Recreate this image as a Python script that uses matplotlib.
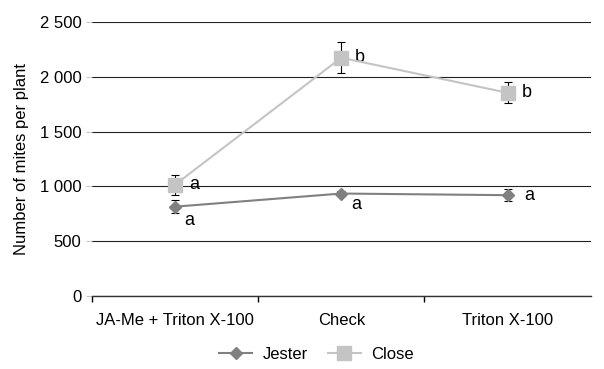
import numpy as np
import matplotlib.pyplot as plt
from matplotlib.lines import Line2D

plt.rcParams['font.family'] = ['Liberation Sans', 'DejaVu Sans']

categories = ["JA-Me + Triton X-100", "Check", "Triton X-100"]
jester = [815, 935, 920]
jester_err = [60, 25, 55]
close = [1015, 2175, 1855]
close_err = [90, 140, 95]
jester_letters = ["a", "a", "a"]
close_letters = ["a", "b", "b"]

jester_color = "#808080"
close_color = "#c4c4c4"

fig = plt.figure(figsize=(6.04, 3.69), dpi=100)
ax = fig.add_axes([0.152, 0.198, 0.826, 0.742])

x = np.arange(len(categories))

ax.errorbar(x, jester, yerr=jester_err, color=jester_color, marker="D", markersize=6.5,
            linewidth=1.5, ecolor="black", elinewidth=0.8, capsize=3, capthick=0.8,
            zorder=3)
ax.errorbar(x, close, yerr=close_err, color=close_color, marker="s", markersize=10,
            linewidth=1.5, ecolor="black", elinewidth=0.8, capsize=3, capthick=0.8,
            zorder=3)

# significance letters
jester_off = [(7, -10), (7, -8), (12, 0)]
close_off = [(10, 0), (10, 0), (10, 0)]
for i in range(len(categories)):
    ax.annotate(jester_letters[i], (x[i], jester[i]), xytext=jester_off[i],
                textcoords="offset points", fontsize=13, va="center", ha="left")
    ax.annotate(close_letters[i], (x[i], close[i]), xytext=close_off[i],
                textcoords="offset points", fontsize=13, va="center", ha="left")

ax.set_xlim(-0.5, 2.5)
ax.set_ylim(0, 2500)
ax.set_yticks(np.arange(0, 2501, 500))
ax.set_yticklabels([f"{v:,}".replace(",", " ") for v in range(0, 2501, 500)])
ax.set_xticks(x)
ax.set_xticklabels(categories)
ax.set_xticks([-0.5, 0.5, 1.5], minor=True)
ax.tick_params(axis="x", which="major", length=0, pad=12, labelsize=12)
ax.tick_params(axis="x", which="minor", length=4, width=1)
ax.tick_params(axis="y", length=4, width=0.6, color="#bbbbbb", labelsize=12)
ax.grid(axis="y", color="#222222", linewidth=0.8)
ax.set_axisbelow(True)
for s in ["top", "right", "left"]:
    ax.spines[s].set_visible(False)
ax.spines["bottom"].set_color("#333333")
ax.spines["bottom"].set_linewidth(1)
ax.set_ylabel("Number of mites per plant", fontsize=12, labelpad=8)

handles = [Line2D([], [], color=jester_color, marker="D", markersize=6.5, linewidth=1.5),
           Line2D([], [], color=close_color, marker="s", markersize=10, linewidth=1.5)]
ax.legend(handles, ["Jester", "Close"], loc="upper center", bbox_to_anchor=(0.45, -0.13),
          ncol=2, frameon=False, fontsize=12, handlelength=2.0, columnspacing=1.2,
          handletextpad=0.6)

fig.savefig("out.png", dpi=100)
